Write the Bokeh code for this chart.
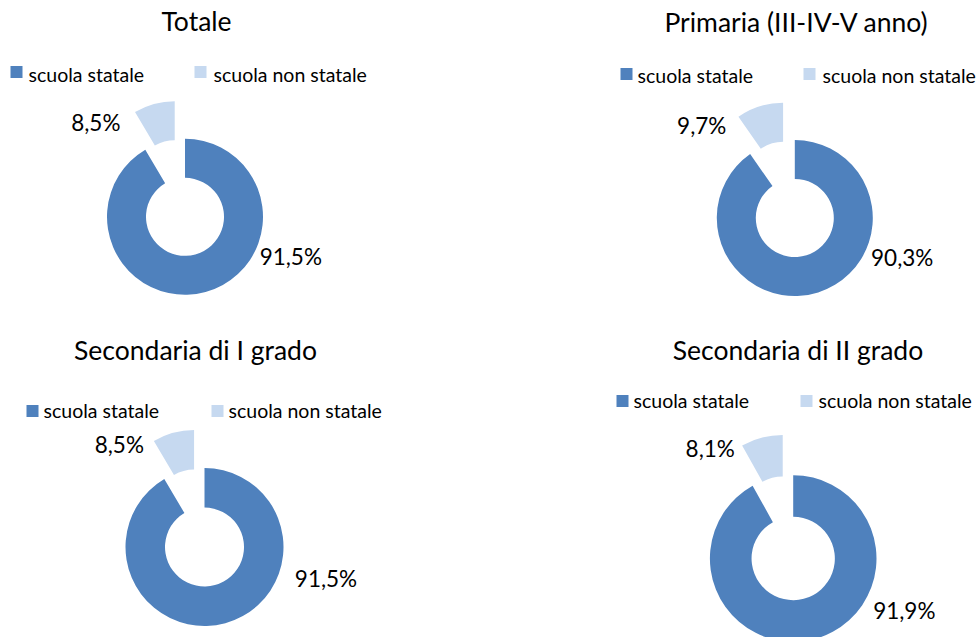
import math
from bokeh.plotting import figure
from bokeh.models import Range1d
from bokeh.core.properties import value
from bokeh.embed import file_html
from bokeh.resources import INLINE

# ---------------- data ----------------
titles = ["Totale", "Primaria (III-IV-V anno)", "Secondaria di I grado", "Secondaria di II grado"]
categories = ["scuola statale", "scuola non statale"]
statale = [91.5, 90.3, 91.5, 91.9]
non_statale = [8.5, 9.7, 8.5, 8.1]
colors = ["#4F81BD", "#C6D9F0"]

# ---------------- layout (reference pixel coords) ----------------
W, H = 979, 637
FONT = "Lato"
TITLE_PX, LEG_PX, LAB_PX = 26.5, 19.5, 22.5
BASE_SHIFT = 0.38  # renderer places alphabetic text lower than expected
centers = [(184.5, 216.3), (794.3, 217.5), (204.0, 546.5), (792.7, 558.0)]
radii = [78.0, 78.0, 79.0, 83.3]
hole = 0.5
explode = 0.5
title_pos = [(196, 31), (796, 31.5), (195, 360), (797.5, 360)]
legend_sq_x = [(10, 194), (620, 803), (26, 211), (616, 800)]
legend_tx_x = [(28, 213), (637, 822), (43, 228), (633, 818)]
legend_base = [81, 82, 417, 407.5]
legend_sq_y = [72, 74, 411, 401]
label_pos = [((290.3, 265), (95.3, 131)),
             ((901.7, 265.7), (701.2, 133.3)),
             ((325.5, 586.7), (118.8, 452.7)),
             ((903.8, 618.3), (709.7, 456.7))]


def X(x):
    return x


def Y(y):
    return H - y


def YT(y, size):
    return H - (y - BASE_SHIFT * size)


def fmt(v):
    return ("%.1f%%" % v).replace(".", ",")


p = figure(width=W, height=H, x_range=Range1d(0, W), y_range=Range1d(0, H),
           output_backend="svg", toolbar_location=None, min_border=0,
           x_axis_location=None, y_axis_location=None)
p.grid.visible = False
p.outline_line_color = None
p.background_fill_color = "white"
p.border_fill_color = "white"

for i in range(4):
    vals = [statale[i], non_statale[i]]
    total = sum(vals)
    cx, cy = centers[i]
    r = radii[i]
    cum = 0.0
    for j, v in enumerate(vals):
        c0 = cum / total
        c1 = (cum + v) / total
        cum += v
        start = math.pi / 2 - 2 * math.pi * c1
        end = math.pi / 2 - 2 * math.pi * c0
        ox, oy = X(cx), Y(cy)
        if j == 1:
            mid = (start + end) / 2
            ox += explode * r * math.cos(mid)
            oy += explode * r * math.sin(mid)
        p.annular_wedge(x=ox, y=oy, inner_radius=r * hole, outer_radius=r,
                        start_angle=start, end_angle=end,
                        fill_color=colors[j], line_color=None)

    # title
    tx, ty = title_pos[i]
    p.text(x=[X(tx)], y=[YT(ty, TITLE_PX)], text=[titles[i]], text_font=value(FONT),
           text_font_size="%.1fpx" % TITLE_PX, text_align="center", text_baseline="alphabetic",
           text_color="#000000")

    # legend
    for j in range(2):
        p.rect(x=[X(legend_sq_x[i][j] + 6)], y=[Y(legend_sq_y[i] - 0.5)], width=12, height=12,
               width_units="screen", height_units="screen",
               fill_color=colors[j], line_color=None)
        p.text(x=[X(legend_tx_x[i][j])], y=[YT(legend_base[i], LEG_PX)], text=[categories[j]],
               text_font=value(FONT), text_font_size="%.1fpx" % LEG_PX, text_align="left",
               text_baseline="alphabetic", text_color="#000000")

    # data labels
    for j, v in enumerate(vals):
        lx, ly = label_pos[i][j]
        p.text(x=[X(lx)], y=[YT(ly, LAB_PX)], text=[fmt(v)], text_font=value(FONT),
               text_font_size="%.1fpx" % LAB_PX, text_align="center", text_baseline="alphabetic",
               text_color="#000000")

open("out.html", "w").write(file_html(p, INLINE))
